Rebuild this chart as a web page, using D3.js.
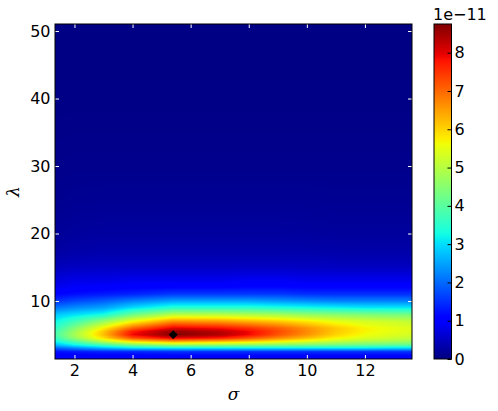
<!DOCTYPE html>
<html>
<head>
<meta charset="utf-8">
<script src="https://cdn.jsdelivr.net/npm/d3@7"></script>
<style>
    body { margin: 0; background: #fff; }
    svg { display: block; }
    text { font-family: "DejaVu Sans", sans-serif; }
</style>
</head>
<body>
<svg id="chart" width="498" height="411"></svg>
<script>
'use strict';

// grid (values in units of 1e-11)
const sigmaGrid = [1.33, 2, 3, 4, 5.4, 7, 8, 9, 10, 11, 12, 13, 13.62];
const lambdaGrid = [1.41, 2, 2.5, 3, 3.5, 4, 4.5, 5, 5.5, 6, 7, 8, 9, 10, 11, 12, 13, 15, 17, 20, 25, 30, 40, 51.04];
const values = [
    [1.0, 1.0, 1.0, 1.0, 1.0, 1.0, 1.0, 1.0, 1.0, 1.0, 1.0, 1.0, 1.0],
    [1.05, 1.05, 1.1, 1.1, 1.15, 1.15, 1.15, 1.15, 1.15, 1.15, 1.15, 1.15, 1.15],
    [1.2, 1.3, 1.4, 1.4, 1.5, 1.5, 1.5, 1.5, 1.5, 1.5, 1.5, 1.5, 1.5],
    [1.9, 2.2, 2.6, 2.9, 3.0, 3.0, 3.0, 3.0, 3.0, 3.0, 3.0, 2.9, 2.9],
    [2.7, 3.2, 3.8, 4.4, 4.8, 4.7, 4.6, 4.5, 4.4, 4.3, 4.2, 4.1, 4.1],
    [3.2, 3.9, 5.0, 5.9, 6.4, 6.2, 6.0, 5.7, 5.4, 5.1, 4.9, 4.8, 4.7],
    [3.6, 4.6, 5.9, 7.2, 8.0, 7.7, 7.2, 6.7, 6.2, 5.7, 5.4, 5.2, 5.1],
    [3.8, 4.8, 6.2, 7.9, 8.75, 8.4, 7.9, 7.2, 6.6, 6.0, 5.6, 5.4, 5.3],
    [3.7, 4.7, 6.1, 7.7, 8.6, 8.3, 7.9, 7.3, 6.7, 6.1, 5.7, 5.5, 5.4],
    [3.5, 4.4, 5.7, 7.0, 8.0, 7.8, 7.5, 7.1, 6.6, 6.1, 5.7, 5.5, 5.4],
    [3.2, 3.7, 4.6, 5.6, 6.6, 6.5, 6.3, 6.1, 5.8, 5.5, 5.3, 5.2, 5.1],
    [2.8, 3.0, 3.3, 4.2, 5.0, 5.0, 4.9, 4.8, 4.6, 4.5, 4.4, 4.3, 4.3],
    [2.1, 2.3, 2.5, 3.0, 3.5, 3.5, 3.5, 3.4, 3.3, 3.2, 3.1, 3.1, 3.1],
    [1.5, 1.7, 1.9, 2.2, 2.5, 2.5, 2.5, 2.4, 2.3, 2.2, 2.2, 2.2, 2.2],
    [1.1, 1.2, 1.3, 1.4, 1.6, 1.6, 1.6, 1.6, 1.5, 1.5, 1.5, 1.5, 1.5],
    [0.85, 0.95, 1.0, 1.05, 1.1, 1.1, 1.15, 1.15, 1.1, 1.1, 1.1, 1.1, 1.1],
    [0.7, 0.8, 0.8, 0.85, 0.85, 0.85, 0.9, 0.9, 0.85, 0.85, 0.85, 0.85, 0.85],
    [0.45, 0.5, 0.52, 0.52, 0.52, 0.52, 0.52, 0.52, 0.52, 0.5, 0.5, 0.5, 0.5],
    [0.28, 0.33, 0.35, 0.35, 0.35, 0.35, 0.35, 0.35, 0.35, 0.34, 0.33, 0.33, 0.33],
    [0.18, 0.22, 0.24, 0.24, 0.24, 0.24, 0.24, 0.24, 0.23, 0.22, 0.22, 0.22, 0.22],
    [0.12, 0.14, 0.15, 0.15, 0.15, 0.15, 0.15, 0.15, 0.15, 0.14, 0.14, 0.14, 0.14],
    [0.09, 0.1, 0.1, 0.1, 0.1, 0.1, 0.1, 0.1, 0.1, 0.1, 0.1, 0.1, 0.1],
    [0.05, 0.05, 0.05, 0.05, 0.05, 0.05, 0.05, 0.05, 0.05, 0.05, 0.05, 0.05, 0.05],
    [0.03, 0.03, 0.03, 0.03, 0.03, 0.03, 0.03, 0.03, 0.03, 0.03, 0.03, 0.03, 0.03]
];
const best = {sigma: 5.4, lambda: 5};
const xTicks = [2, 4, 6, 8, 10, 12];
const yTicks = [10, 20, 30, 40, 50];
const cTicks = [0, 1, 2, 3, 4, 5, 6, 7, 8];
const cMax = 8.75;

// matplotlib jet
const jetR = d3.scaleLinear().domain([0, 0.35, 0.66, 0.89, 1]).range([0, 0, 1, 1, 0.5]).clamp(true);
const jetG = d3.scaleLinear().domain([0, 0.125, 0.375, 0.64, 0.91, 1]).range([0, 0, 1, 1, 0, 0]).clamp(true);
const jetB = d3.scaleLinear().domain([0, 0.11, 0.34, 0.65, 1]).range([0.5, 1, 1, 0, 0]).clamp(true);
function jet(t) {
    return d3.rgb(jetR(t) * 255, jetG(t) * 255, jetB(t) * 255);
}

let svg = d3.select("#chart"),
    plot = {left: 55, top: 24, right: 412, bottom: 359},
    cbar = {left: 434, right: 451.5};

let x = d3.scaleLinear().domain([sigmaGrid[0], sigmaGrid[sigmaGrid.length - 1]]).range([plot.left, plot.right]);
let y = d3.scaleLinear().domain([lambdaGrid[0], lambdaGrid[lambdaGrid.length - 1]]).range([plot.bottom, plot.top]);
let c = d3.scaleLinear().domain([0, cMax]).range([plot.bottom, plot.top]);
let frac = d3.scaleLinear().domain([0, cMax]).range([0, 1]).clamp(true);

function bracket(grid, v) {
    let i = d3.bisectRight(grid, v) - 1;
    i = Math.max(0, Math.min(grid.length - 2, i));
    let t = (v - grid[i]) / (grid[i + 1] - grid[i]);
    return [i, Math.max(0, Math.min(1, t))];
}

function valueAt(s, l) {
    let [i, ti] = bracket(sigmaGrid, s);
    let [j, tj] = bracket(lambdaGrid, l);
    let a = values[j][i] * (1 - ti) + values[j][i + 1] * ti;
    let b = values[j + 1][i] * (1 - ti) + values[j + 1][i + 1] * ti;
    return a * (1 - tj) + b * tj;
}

// heatmap drawn pixel by pixel on a canvas, then put into the svg
let w = plot.right - plot.left, h = plot.bottom - plot.top;
let canvas = document.createElement("canvas");
canvas.width = w;
canvas.height = h;
let ctx = canvas.getContext("2d");
let img = ctx.createImageData(w, h);
for (let py = 0; py < h; py++) {
    let l = y.invert(plot.top + py + 0.5);
    for (let px = 0; px < w; px++) {
        let s = x.invert(plot.left + px + 0.5);
        let col = jet(frac(valueAt(s, l)));
        let k = (py * w + px) * 4;
        img.data[k] = col.r;
        img.data[k + 1] = col.g;
        img.data[k + 2] = col.b;
        img.data[k + 3] = 255;
    }
}
ctx.putImageData(img, 0, 0);

svg.append("image")
    .attr("x", plot.left)
    .attr("y", plot.top)
    .attr("width", w)
    .attr("height", h)
    .attr("href", canvas.toDataURL());

// axes, ticks inside
function styleAxis(g, color) {
    g.select(".domain").remove();
    g.selectAll(".tick line").attr("stroke", color);
    g.selectAll(".tick text").attr("fill", "#000").style("font-size", "16px")
        .style("font-family", "'DejaVu Sans', sans-serif");
}

svg.append("g")
    .attr("transform", "translate(0," + plot.bottom + ")")
    .call(d3.axisBottom(x).tickValues(xTicks).tickSize(-4).tickPadding(6))
    .call(g => styleAxis(g, "#fff"));

svg.append("g")
    .attr("transform", "translate(0," + plot.top + ")")
    .call(d3.axisTop(x).tickValues(xTicks).tickSize(-4).tickFormat(""))
    .call(g => styleAxis(g, "#fff"));

svg.append("g")
    .attr("transform", "translate(" + plot.left + ",0)")
    .call(d3.axisLeft(y).tickValues(yTicks).tickSize(-4).tickPadding(4.5))
    .call(g => styleAxis(g, "#fff"));

svg.append("g")
    .attr("transform", "translate(" + plot.right + ",0)")
    .call(d3.axisRight(y).tickValues(yTicks).tickSize(-4).tickFormat(""))
    .call(g => styleAxis(g, "#fff"));

svg.append("rect")
    .attr("x", plot.left)
    .attr("y", plot.top)
    .attr("width", w)
    .attr("height", h)
    .attr("fill", "none")
    .attr("stroke", "#000")
    .attr("stroke-width", 1);

// best point
svg.append("path")
    .attr("d", d3.symbol().type(d3.symbolSquare).size(40)())
    .attr("transform", "translate(" + x(best.sigma) + "," + y(best.lambda) + ") rotate(45)")
    .attr("fill", "#000");

// axis labels
svg.append("text")
    .attr("x", (plot.left + plot.right) / 2)
    .attr("y", 400)
    .attr("text-anchor", "middle")
    .style("font-family", "'DejaVu Serif', serif")
    .style("font-style", "italic")
    .style("font-size", "17px")
    .text("σ");

svg.append("text")
    .attr("transform", "translate(19," + (plot.top + plot.bottom) / 2 + ") rotate(-90)")
    .attr("text-anchor", "middle")
    .style("font-family", "'DejaVu Serif', serif")
    .style("font-style", "italic")
    .style("font-size", "17px")
    .text("λ");

// colorbar
let grad = svg.append("defs").append("linearGradient")
    .attr("id", "jetGrad")
    .attr("x1", 0).attr("y1", 1).attr("x2", 0).attr("y2", 0);
grad.selectAll("stop")
    .data(d3.range(0, 1.0001, 0.01))
    .enter().append("stop")
    .attr("offset", d => d)
    .attr("stop-color", d => jet(d).formatHex());

svg.append("rect")
    .attr("x", cbar.left)
    .attr("y", plot.top)
    .attr("width", cbar.right - cbar.left)
    .attr("height", h)
    .attr("fill", "url(#jetGrad)")
    .attr("stroke", "#000")
    .attr("stroke-width", 1);

svg.append("g")
    .attr("transform", "translate(" + cbar.right + ",0)")
    .call(d3.axisRight(c).tickValues(cTicks).tickSize(-4).tickPadding(3).tickFormat(d3.format("d")))
    .call(g => styleAxis(g, "#000"));

svg.append("text")
    .attr("x", 433)
    .attr("y", 20)
    .style("font-size", "16px")
    .text("1e\u221211");
</script>
</body>
</html>
